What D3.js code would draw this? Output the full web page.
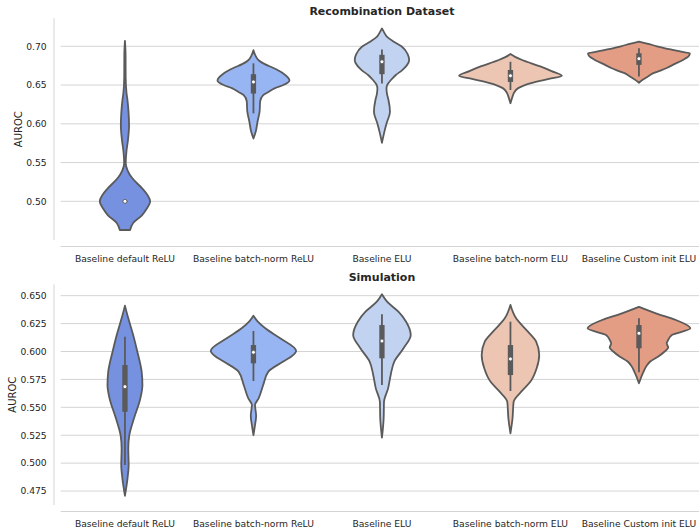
<!DOCTYPE html>
<html>
<head>
<meta charset="utf-8">
<script src="https://cdn.jsdelivr.net/npm/d3@7"></script>
<style>
  body { margin: 0; background: #fff; }
  text { font-family: "DejaVu Sans", sans-serif; fill: #262626; }
</style>
</head>
<body>
<svg id="chart"></svg>
<script>
const categories = [
  "Baseline default ReLU",
  "Baseline batch-norm ReLU",
  "Baseline ELU",
  "Baseline batch-norm ELU",
  "Baseline Custom init ELU",
];
const violinColors = ["#7591df", "#98b5f3", "#c2d3f1", "#ecc6b2", "#e39d85"];

const recombTicks = [0.5, 0.55, 0.6, 0.65, 0.7];
const simTicks = [0.475, 0.5, 0.525, 0.55, 0.575, 0.6, 0.625, 0.65];

// density profiles: [AUROC, relative half width]
const recombProfiles = [
  [[0.707, 0], [0.69, 0.012], [0.66, 0.014], [0.64, 0.03], [0.63, 0.05], [0.615, 0.07], [0.598, 0.08], [0.58, 0.06], [0.565, 0.03], [0.549, 0.015], [0.54, 0.05], [0.53, 0.14], [0.517, 0.33], [0.508, 0.44], [0.5, 0.49], [0.49, 0.42], [0.482, 0.33], [0.472, 0.16], [0.463, 0.1]],
  [[0.695, 0], [0.688, 0.04], [0.682, 0.1], [0.677, 0.22], [0.672, 0.39], [0.665, 0.58], [0.656, 0.7], [0.65, 0.58], [0.646, 0.42], [0.641, 0.29], [0.637, 0.19], [0.629, 0.13], [0.616, 0.12], [0.603, 0.08], [0.59, 0.045], [0.581, 0]],
  [[0.723, 0], [0.717, 0.05], [0.712, 0.1], [0.706, 0.23], [0.6995, 0.39], [0.69, 0.5], [0.682, 0.53], [0.675, 0.48], [0.669, 0.39], [0.663, 0.27], [0.6565, 0.175], [0.651, 0.11], [0.646, 0.088], [0.638, 0.1], [0.631, 0.126], [0.6156, 0.156], [0.6006, 0.09], [0.5877, 0.04], [0.5756, 0]],
  [[0.69, 0], [0.686, 0.1], [0.682, 0.24], [0.674, 0.58], [0.668, 0.8], [0.662, 1.0], [0.658, 0.75], [0.654, 0.49], [0.65, 0.28], [0.646, 0.15], [0.64, 0.07], [0.635, 0.04], [0.6265, 0]],
  [[0.706, 0], [0.7035, 0.16], [0.7, 0.35], [0.6974, 0.51], [0.695, 0.68], [0.693, 0.82], [0.691, 0.99], [0.6875, 0.97], [0.6845, 0.91], [0.681, 0.82], [0.678, 0.72], [0.672, 0.54], [0.669, 0.43], [0.665, 0.27], [0.661, 0.175], [0.657, 0.08], [0.653, 0]],
];
// [whisker low, q1, median, q3, whisker high]
const recombBoxes = [
  [0.499, 0.4995, 0.5, 0.5005, 0.501],
  [0.6135, 0.639, 0.654, 0.664, 0.678],
  [0.652, 0.664, 0.68, 0.689, 0.696],
  [0.6436, 0.654, 0.662, 0.6694, 0.68],
  [0.661, 0.676, 0.684, 0.691, 0.6974],
];

const simProfiles = [
  [[0.641, 0], [0.6297, 0.065], [0.6148, 0.16], [0.6, 0.24], [0.5819, 0.325], [0.57, 0.34], [0.558, 0.3], [0.54, 0.175], [0.525, 0.085], [0.5133, 0.065], [0.4983, 0.072], [0.4864, 0.05], [0.4708, 0]],
  [[0.632, 0], [0.627, 0.08], [0.6208, 0.23], [0.6118, 0.52], [0.6005, 0.83], [0.596, 0.75], [0.591, 0.58], [0.582, 0.29], [0.57, 0.19], [0.558, 0.1], [0.552, 0.03], [0.5425, 0.052], [0.534, 0.03], [0.525, 0]],
  [[0.6513, 0], [0.6446, 0.1], [0.6357, 0.32], [0.6267, 0.47], [0.6148, 0.56], [0.6029, 0.42], [0.591, 0.24], [0.579, 0.17], [0.567, 0.12], [0.555, 0.04], [0.54, 0.033], [0.5228, 0]],
  [[0.6417, 0], [0.6297, 0.11], [0.6178, 0.34], [0.6088, 0.5], [0.5969, 0.56], [0.585, 0.51], [0.5731, 0.39], [0.564, 0.21], [0.555, 0.062], [0.54, 0.04], [0.5267, 0]],
  [[0.64, 0], [0.6342, 0.33], [0.6282, 0.72], [0.6208, 1.0], [0.6148, 0.64], [0.6095, 0.56], [0.6073, 0.54], [0.6035, 0.57], [0.6, 0.5], [0.5953, 0.37], [0.591, 0.22], [0.5879, 0.16], [0.582, 0.09], [0.5715, 0]],
];
const simBoxes = [
  [0.4983, 0.546, 0.5685, 0.5879, 0.6133],
  [0.5736, 0.5894, 0.5993, 0.6058, 0.6184],
  [0.57, 0.5939, 0.6094, 0.6237, 0.6333],
  [0.5646, 0.5789, 0.5933, 0.6058, 0.6267],
  [0.5814, 0.6029, 0.6163, 0.6237, 0.6297],
];

const lineGray = "#5a5a5a";
const gridGray = "#d4d4d4";

const svg = d3.select("#chart").attr("width", 699).attr("height", 529);

drawViolinPanel({
  title: "Recombination Dataset",
  profiles: recombProfiles,
  boxes: recombBoxes,
  ticks: recombTicks,
  tickFormat: d3.format(".2f"),
  domain: [0.4501, 0.7361],
  top: 18.3,
  bottom: 240,
  labelX: 21.8,
});

drawViolinPanel({
  title: "Simulation",
  profiles: simProfiles,
  boxes: simBoxes,
  ticks: simTicks,
  tickFormat: d3.format(".3f"),
  domain: [0.4625, 0.6602],
  top: 284.3,
  bottom: 505,
  labelX: 16.3,
});

function drawViolinPanel(cfg) {
  const x = d3.scaleBand().domain(categories).range([60.7, 703.2]);
  const y = d3.scaleLinear().domain(cfg.domain).range([cfg.bottom, cfg.top]);
  const halfWidth = d3.scaleLinear().domain([0, 1]).range([0, x.bandwidth() * 0.4]);

  const g = svg.append("g");

  // grid
  g.selectAll(".grid")
    .data(cfg.ticks)
    .enter()
    .append("line")
    .attr("class", "grid")
    .attr("x1", x.range()[0])
    .attr("x2", x.range()[1])
    .attr("y1", (d) => y(d))
    .attr("y2", (d) => y(d))
    .style("stroke", gridGray)
    .style("stroke-width", 1);

  // offset spines (despined look)
  g.append("line")
    .attr("x1", 54)
    .attr("x2", 54)
    .attr("y1", cfg.top)
    .attr("y2", cfg.bottom)
    .style("stroke", gridGray)
    .style("stroke-width", 1);

  g.append("line")
    .attr("x1", x.range()[0])
    .attr("x2", x.range()[1])
    .attr("y1", cfg.bottom + 6.5)
    .attr("y2", cfg.bottom + 6.5)
    .style("stroke", gridGray)
    .style("stroke-width", 1);

  // y tick labels
  g.selectAll(".ytick")
    .data(cfg.ticks)
    .enter()
    .append("text")
    .attr("class", "ytick")
    .attr("x", 46.7)
    .attr("y", (d) => y(d))
    .attr("dy", "0.36em")
    .attr("text-anchor", "end")
    .style("font-size", "9.2px")
    .text((d) => cfg.tickFormat(d));

  // x tick labels
  g.selectAll(".xtick")
    .data(categories)
    .enter()
    .append("text")
    .attr("class", "xtick")
    .attr("x", (d) => x(d) + x.bandwidth() / 2)
    .attr("y", cfg.bottom + 21.5)
    .attr("text-anchor", "middle")
    .style("font-size", "9.2px")
    .text((d) => d);

  // axis label
  g.append("text")
    .attr(
      "transform",
      "translate(" + cfg.labelX + "," + (cfg.top + cfg.bottom) / 2 + ") rotate(-90)"
    )
    .attr("text-anchor", "middle")
    .style("font-size", "10px")
    .text("AUROC");

  // title
  g.append("text")
    .attr("x", (x.range()[0] + x.range()[1]) / 2)
    .attr("y", cfg.top - 3.5)
    .attr("text-anchor", "middle")
    .style("font-size", "11px")
    .style("font-weight", "bold")
    .text(cfg.title);

  const violins = g
    .selectAll(".violin")
    .data(categories)
    .enter()
    .append("g")
    .attr("class", "violin");

  violins
    .append("path")
    .attr("d", function (d, i) {
      const cx = x(d) + x.bandwidth() / 2;
      const area = d3
        .area()
        .curve(d3.curveMonotoneY)
        .y((p) => y(p[0]))
        .x0((p) => cx - halfWidth(p[1]))
        .x1((p) => cx + halfWidth(p[1]));
      return area(cfg.profiles[i]);
    })
    .style("fill", (d, i) => violinColors[i])
    .style("stroke", lineGray)
    .style("stroke-width", 1.8)
    .style("stroke-linejoin", "round");

  // whiskers
  violins
    .append("line")
    .attr("x1", (d) => x(d) + x.bandwidth() / 2)
    .attr("x2", (d) => x(d) + x.bandwidth() / 2)
    .attr("y1", (d, i) => y(cfg.boxes[i][0]))
    .attr("y2", (d, i) => y(cfg.boxes[i][4]))
    .style("stroke", lineGray)
    .style("stroke-width", 1.8);

  // boxes
  violins
    .append("line")
    .attr("x1", (d) => x(d) + x.bandwidth() / 2)
    .attr("x2", (d) => x(d) + x.bandwidth() / 2)
    .attr("y1", (d, i) => y(cfg.boxes[i][1]))
    .attr("y2", (d, i) => y(cfg.boxes[i][3]))
    .style("stroke", lineGray)
    .style("stroke-width", 5.3);

  // medians
  violins
    .append("circle")
    .attr("cx", (d) => x(d) + x.bandwidth() / 2)
    .attr("cy", (d, i) => y(cfg.boxes[i][2]))
    .attr("r", 2)
    .style("fill", "white")
    .style("stroke", lineGray)
    .style("stroke-width", 0.9);
}
</script>
</body>
</html>
